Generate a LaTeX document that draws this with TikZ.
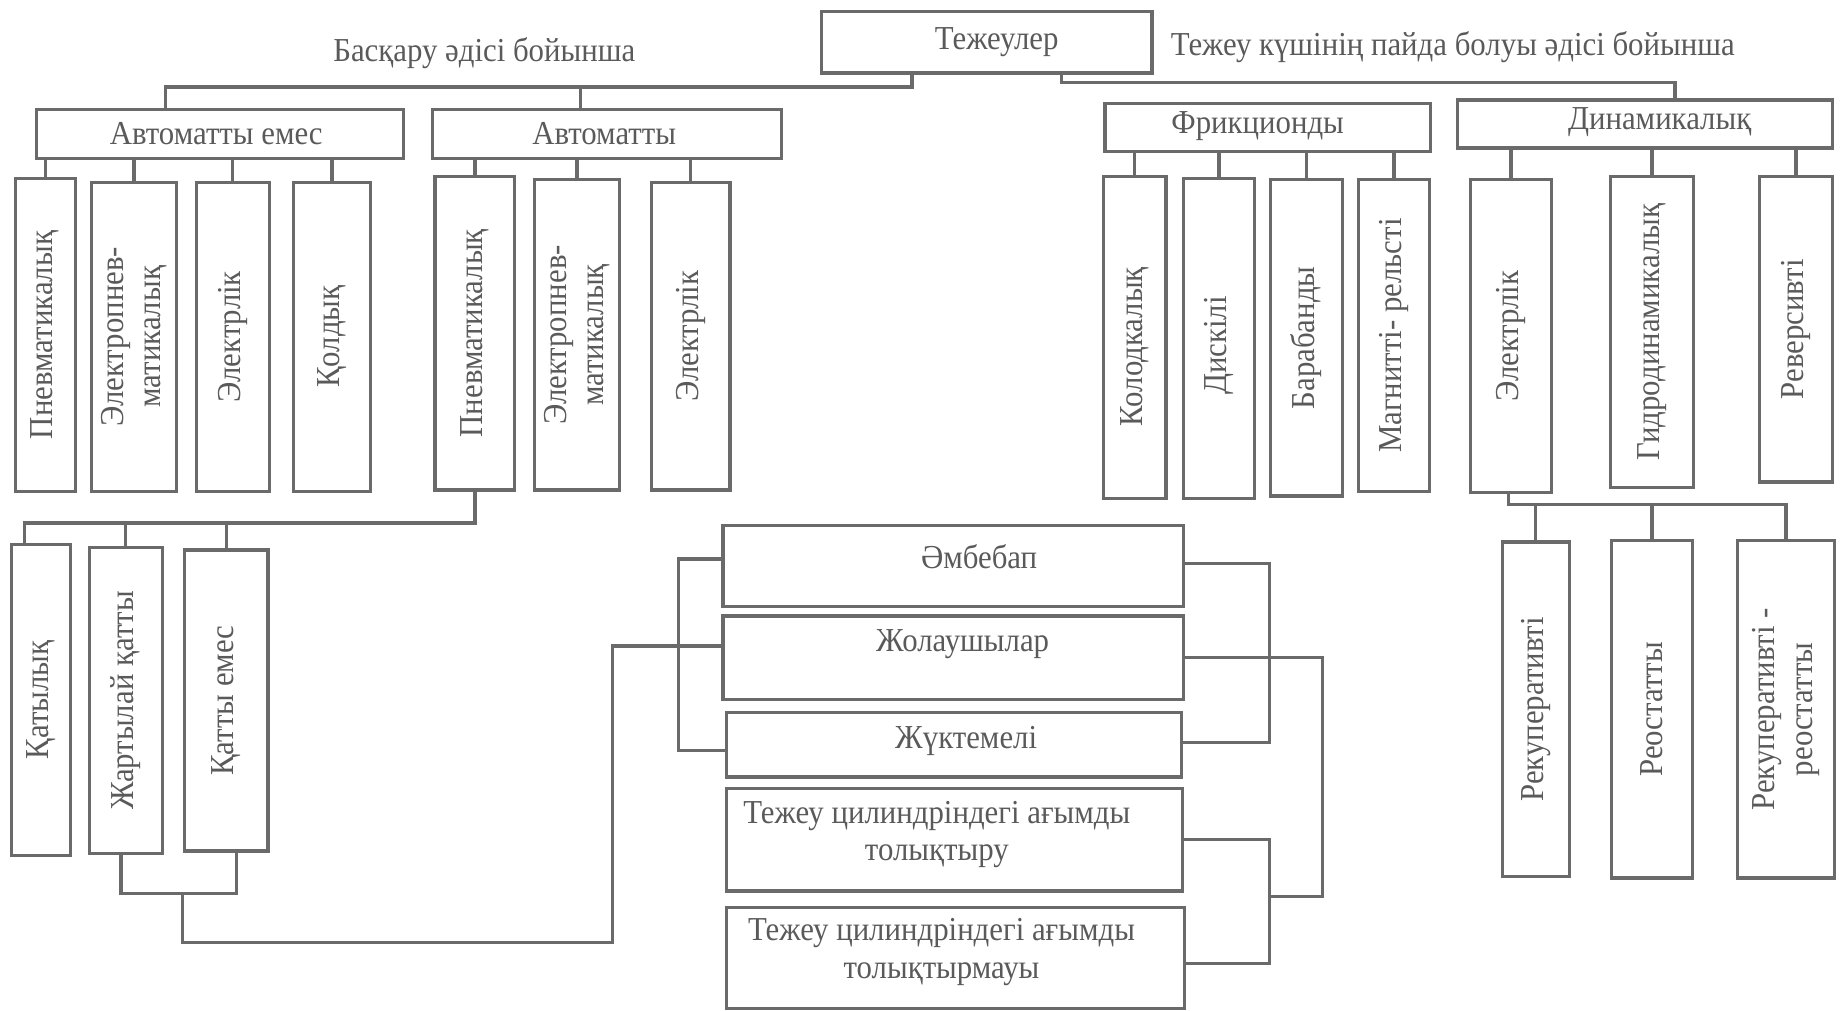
\documentclass[tikz,border=0pt]{standalone}
\usepackage{fontspec}
\setmainfont[FakeStretch=0.92]{Liberation Serif}
\usetikzlibrary{fit}
\definecolor{lc}{HTML}{6A6A6A}
\definecolor{tc}{HTML}{5A5A5A}
\tikzset{
  box/.style={draw=lc, line width=2.8pt, inner sep=0pt, outer sep=0pt, rectangle},
  ln/.style={draw=lc, line width=2.8pt, line cap=rect},
  txt/.style={text=tc, inner sep=0pt, font=\fontsize{28.5}{32}\selectfont, align=center},
  vt/.style={txt, rotate=90}
}
\begin{document}
\begin{tikzpicture}[x=1pt, y=-1pt]
\useasboundingbox (0,0) rectangle (1568,860);
% top
\node[box, fit={(699,10) (980,62)}] (tej) {};
\node[txt] (tejt) at (848,36) {Тежеулер};
\node[txt] (lblL) at (412,45) {Басқару әдісі бойынша};
\node[txt] (lblR) at (1236,40) {Тежеу күшінің пайда болуы әдісі бойынша};
% second row
\node[box, fit={(31,93) (343,135)}] (ne) {};
\node[txt] (net) at (184,114) {Автоматты емес};
\node[box, fit={(368,93) (665,135)}] (au) {};
\node[txt] (aut) at (514,114) {Автоматты};
\node[box, fit={(940,88) (1217,129)}] (fr) {};
\node[txt] (frt) at (1070,107) {Фрикционды};
\node[box, fit={(1240,85) (1559,126)}] (dy) {};
\node[txt] (dyt) at (1412,104) {Динамикалық};
% children of Автоматты емес
\node[box, fit={(13,152) (64,418)}] (a1) {};
\node[vt] (a1t) at (a1.center) {Пневматикалық};
\node[box, fit={(78,155) (150,418)}] (a2) {};
\node[vt] (a2t) at (a2.center) {Электропнев-\\матикалық};
\node[box, fit={(167,155) (229,418)}] (a3) {};
\node[vt] (a3t) at (a3.center) {Электрлік};
\node[box, fit={(250,155) (315,418)}] (a4) {};
\node[vt] (a4t) at (a4.center) {Қолдық};
% children of Автоматты
\node[box, fit={(370,150) (438,417)}] (b1) {};
\node[vt] (b1t) at (b1.center) {Пневматикалық};
\node[box, fit={(455,153) (527,417)}] (b2) {};
\node[vt] (b2t) at (b2.center) {Электропнев-\\матикалық};
\node[box, fit={(554,155) (621,417)}] (b3) {};
\node[vt] (b3t) at (b3.center) {Электрлік};
% children of Фрикционды
\node[box, fit={(939,150) (992,424)}] (f1) {};
\node[vt] (f1t) at ([yshift=-8pt]f1.center) {Колодкалық};
\node[box, fit={(1007,152) (1067,424)}] (f2) {};
\node[vt] (f2t) at ([yshift=-6pt]f2.center) {Дискілі};
\node[box, fit={(1081,153) (1142,422)}] (f3) {};
\node[vt] (f3t) at (f3.center) {Барабанды};
\node[box, fit={(1156,153) (1216,418)}] (f4) {};
\node[vt] (f4t) at (f4.center) {Магнитті- рельсті};
% children of Динамикалық
\node[box, fit={(1251,153) (1320,419)}] (d1) {};
\node[vt] (d1t) at (d1.center) {Электрлік};
\node[box, fit={(1370,150) (1441,415)}] (d2) {};
\node[vt] (d2t) at (d2.center) {Гидродинамикалық};
\node[box, fit={(1497,150) (1559,410)}] (d3) {};
\node[vt] (d3t) at (d3.center) {Реверсивті};
% lower left
\node[box, fit={(10,463) (60,728)}] (k1) {};
\node[vt] (k1t) at (k1.center) {Қатылық};
\node[box, fit={(76,466) (138,726)}] (k2) {};
\node[vt] (k2t) at (k2.center) {Жартылай қатты};
\node[box, fit={(157,468) (228,724)}] (k3) {};
\node[vt] (k3t) at (k3.center) {Қатты емес};
% middle
\node[box, fit={(615,447) (1007,516)}] (m1) {};
\node[txt] (m1t) at (833,474) {Әмбебап};
\node[box, fit={(615,524) (1007,595)}] (m2) {};
\node[txt] (m2t) at (819,548) {Жолаушылар};
\node[box, fit={(618,606) (1005,661)}] (m3) {};
\node[txt] (m3t) at (822,630) {Жүктемелі};
\node[box, fit={(618,671) (1006,758)}] (m4) {};
\node[txt] (m4t) at (797,710) {Тежеу цилиндріндегі ағымды\\толықтыру};
\node[box, fit={(618,772) (1008,858)}] (m5) {};
\node[txt] (m5t) at (801,810) {Тежеу цилиндріндегі ағымды\\толықтырмауы};
% lower right
\node[box, fit={(1278,461) (1335,746)}] (r1) {};
\node[vt] (r1t) at (r1.center) {Рекуперативті};
\node[box, fit={(1371,460) (1440,747)}] (r2) {};
\node[vt] (r2t) at (r2.center) {Реостатты};
\node[box, fit={(1478,460) (1561,747)}] (r3) {};
\node[vt] (r3t) at (r3.center) {Рекуперативті -\\реостатты};

% ---- connectors ----
\coordinate (tl) at (776,74);
\coordinate (tlA) at (141,74);
\coordinate (tlB) at (494,74);
\draw[ln] (tl |- tej.south) -- (tl) -- (tlA) -- (tlA |- ne.north);
\draw[ln] (tlB) -- (tlB |- au.north);
\coordinate (tr) at (903,70);
\coordinate (trD) at (1425,70);
\draw[ln] (tr |- tej.south) -- (tr) -- (trD) -- (trD |- dy.north);
% row 2 -> row 3
\foreach \c in {a1,a2,a3,a4} \draw[ln] (ne.south -| \c.north) -- (\c.north);
\foreach \c in {b1,b2,b3} \draw[ln] (au.south -| \c.north) -- (\c.north);
\foreach \c in {f1,f2,f3,f4} \draw[ln] (fr.south -| \c.north) -- (\c.north);
\foreach \c in {d1,d2,d3} \draw[ln] (dy.south -| \c.north) -- (\c.north);
% lower left group
\coordinate (lbus) at (0,445);
\coordinate (k1c) at ([xshift=-14pt]k1.north);
\draw[ln] (b1.south) |- (k1c |- lbus) -- (k1c);
\draw[ln] (k2.north |- lbus) -- (k2.north);
\draw[ln] (k3.north |- lbus) -- (k3.north);
\coordinate (lb2) at (0,760);
\coordinate (k2b) at ([xshift=-4pt]k2.south);
\coordinate (k3b) at ([xshift=9pt]k3.south);
\draw[ln] (k2b) |- (k3b |- lb2) -- (k3b);
\coordinate (j1) at (155,760);
\coordinate (j2) at (521,802);
\coordinate (zj) at ([yshift=10pt]m2.west);
\draw[ln] (j1) |- (j2) |- (zj);
% left bracket of middle group
\coordinate (bx1) at (577,0);
\coordinate (m1L) at ([yshift=6pt]m1.west);
\coordinate (m3L) at ([yshift=-5pt]m3.west);
\draw[ln] (m1L) -- (m1L -| bx1) -- (m3L -| bx1) -- (m3L);
% right brackets
\coordinate (rb1) at (1080,0);
\coordinate (rb2) at (1125,763);
\coordinate (m1R) at ([yshift=2pt]m1.east);
\coordinate (m3R) at ([yshift=2pt]m3.east);
\draw[ln] (m1R) -- (m1R -| rb1) -- (m3R -| rb1) -- (m3R);
\draw[ln] (m2.east) -- (m2.east -| rb2) -- (rb2) -- (rb2 -| rb1);
\coordinate (m5R) at ([yshift=-5pt]m5.east);
\draw[ln] (m4.east) -- (m4.east -| rb1) -- (m5R -| rb1) -- (m5R);
% lower right group
\coordinate (rbus) at (0,429);
\draw[ln] ([xshift=-2pt]d1.south) |- (r3.north |- rbus) -- (r3.north);
\draw[ln] (r1.north |- rbus) -- (r1.north);
\draw[ln] (r2.north |- rbus) -- (r2.north);
\end{tikzpicture}
\end{document}
